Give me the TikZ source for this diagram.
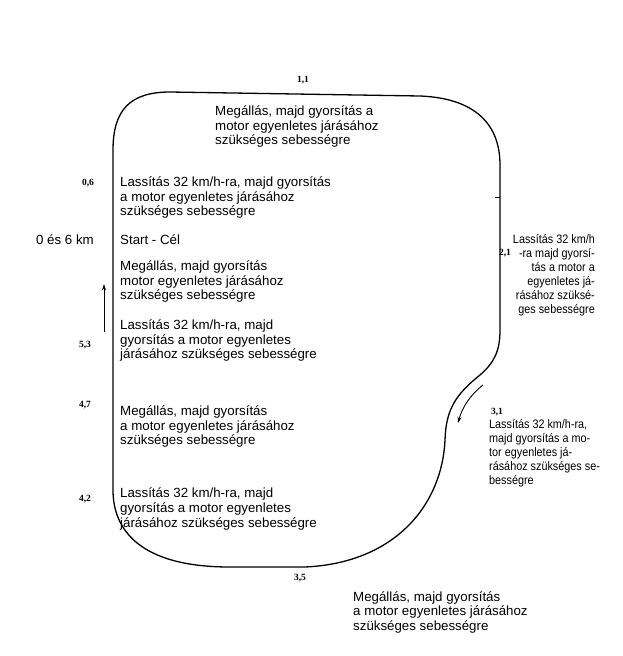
\documentclass[tikz,border=0pt]{standalone}
\usepackage{fontspec}
\setmainfont{Liberation Sans}
\newfontfamily\kmfont{Liberation Serif}
\newfontfamily\narrowfont{Liberation Sans}[FakeStretch=0.88]
\usepackage{tikz}
\usetikzlibrary{arrows.meta, positioning}

\begin{document}
\begin{tikzpicture}[x=1pt, y=-1pt,
    note/.style={anchor=north west, align=left, inner sep=0pt,
                 font=\fontsize{13.3}{14.5}\selectfont},
    narrow/.style={inner sep=0pt, font=\narrowfont\fontsize{12.3}{14}\selectfont},
    km/.style={inner sep=0pt, font=\kmfont\bfseries\fontsize{9.5}{10}\selectfont},
    track/.style={draw=black, line width=1.3pt, line join=round},
    arrow/.style={-{Stealth[length=2.2mm, width=1.4mm]}, line width=0.9pt}
]
\useasboundingbox (0,0) rectangle (623,656);

% --- track ---
\draw [track] (113,150) .. controls (113,110) and (130,92) .. (170,92)
    -- (420,96) .. controls (470,98) and (500,120) .. (500,165)
    -- (500,330) .. controls (500,350) and (495,362) .. (480,375)
    .. controls (455,395) and (446,410) .. (445,440)
    .. controls (442,505) and (395,563) .. (305,567)
    -- (230,567) .. controls (140,567) and (113,530) .. (113,490)
    -- cycle;
\draw [line width=0.6pt] (495,197) -- (500,197);

% --- km marks ---
\node (k11) [km] at (303,80) {1,1};
\node (k06) [km] at (88,183) {0,6};
\node (k53) [km] at (85,345) {5,3};
\node (k47) [km] at (85,405) {4,7};
\node (k42) [km] at (85,499) {4,2};
\node (k35) [km] at (300,578) {3,5};
\node (k21) [km] at (505,253) {2,1};
\node (k31) [km] at (497,412) {3,1};
\node (start) [note, anchor=east, align=right] at (94,240) {0 és 6 km};

% --- notes inside ---
\node (stop1) [note] at (215,106) {Megállás, majd gyorsítás a\\
    motor egyenletes járásához\\ szükséges sebességre};
\node (slow1) [note] at (120,177) {Lassítás 32 km/h-ra, majd gyorsítás\\
    a motor egyenletes járásához\\ szükséges sebességre};
\node (goal) [note, anchor=west] at (120,240) {Start - Cél};
\node (stop4) [note] at (120,261) {Megállás, majd gyorsítás\\
    motor egyenletes járásához\\ szükséges sebességre};
\node (slow4) [note] at (120,320) {Lassítás 32 km/h-ra, majd\\
    gyorsítás a motor egyenletes\\ járásához szükséges sebességre};
\node (stop3) [note] at (120,406) {Megállás, majd gyorsítás\\
    a motor egyenletes járásához\\ szükséges sebességre};
\node (slow3) [note] at (120,488) {Lassítás 32 km/h-ra, majd\\
    gyorsítás a motor egyenletes\\ járásához szükséges sebességre};

% --- notes outside ---
\node (slow2) [narrow, anchor=north east, align=right] at (595,234) {Lassítás 32 km/h\\
    -ra majd gyorsí-\\ tás a motor a\\ egyenletes já-\\ rásához szüksé-\\ ges sebességre};
\node (slow5) [narrow, anchor=north west, align=left] at (489,419) {Lassítás 32 km/h-ra,\\
    majd gyorsítás a mo-\\ tor egyenletes já-\\ rásához szükséges se-\\ bességre};
\node (stop2) [note] at (353,591) {Megállás, majd gyorsítás\\
    a motor egyenletes járásához\\ szükséges sebességre};

% --- direction arrows ---
\coordinate (up0) at (104,332);
\coordinate (up1) at (104,284);
\coordinate (dn0) at (483,385);
\coordinate (dn1) at (458,423);
\draw [arrow] (up0) -- (up1);
\draw [arrow] (dn0) .. controls (470,395) and (462,408) .. (dn1);
\end{tikzpicture}
\end{document}
